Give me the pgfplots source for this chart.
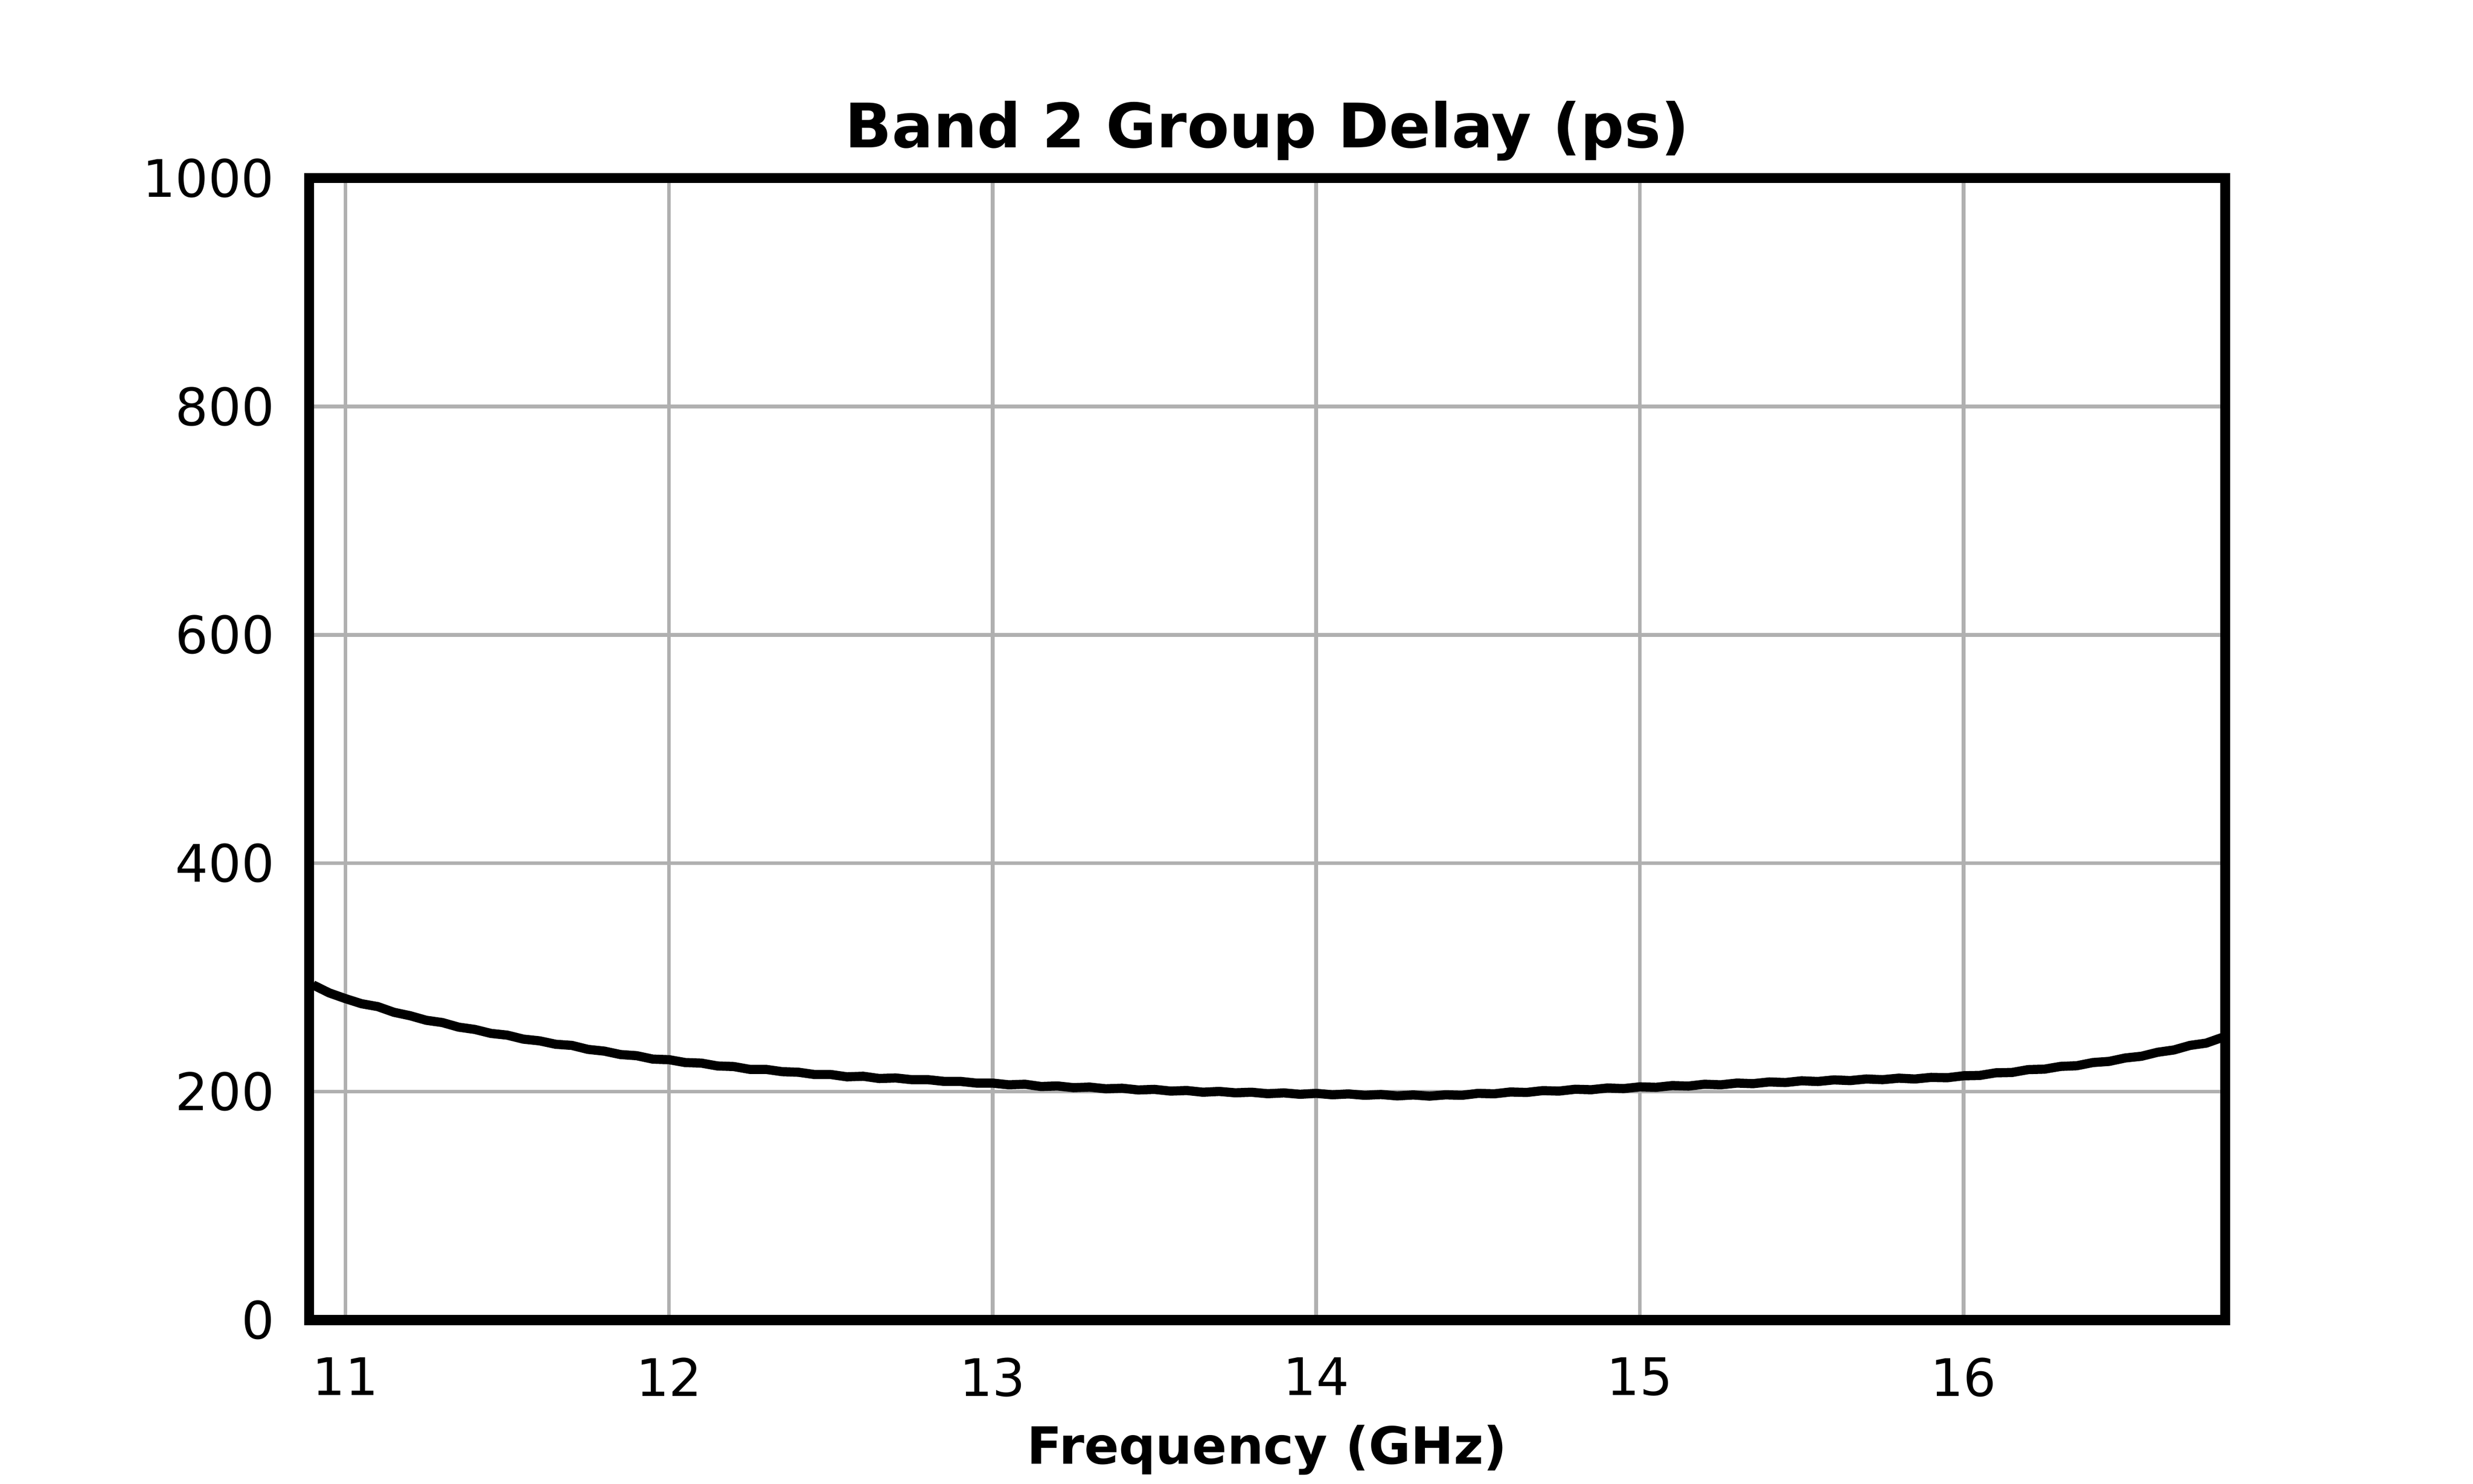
\documentclass[border=0pt]{standalone}
\usepackage{fontspec}
\setmainfont{DejaVu Sans}
\usepackage{pgfplots}
\pgfplotsset{compat=1.18}
\definecolor{gridgray}{HTML}{B0B0B0}
\begin{document}
\begin{tikzpicture}
\useasboundingbox (-67.5pt,-35.7pt) rectangle (472.5pt,288.3pt);
\begin{axis}[
  at={(0,0)}, anchor=south west,
  scale only axis,
  width=418.4pt, height=249.4pt,
  xmin=10.888, xmax=16.809,
  ymin=0, ymax=1000,
  xtick={11,12,13,14,15,16},
  ytick={0,200,400,600,800,1000},
  /pgf/number format/1000 sep={},
  major tick length=0pt,
  grid=major,
  major grid style={draw=gridgray, line width=0.8pt},
  axis line style={line width=2.2pt, black},
  /pgf/number format/assume math mode=true,
  ticklabel style={font=\fontsize{11.3}{13.5}\selectfont},
  xticklabel style={anchor=north, inner sep=0pt, yshift=-8pt},
  yticklabel style={anchor=east, inner sep=0pt, xshift=-7.4pt},
  title={Band 2 Group Delay (ps)},
  every axis title/.style={font=\fontsize{13.4}{16}\selectfont\bfseries, at={(axis description cs:0.5,1)}, anchor=base, inner sep=0pt, yshift=6.7pt},
  xlabel={Frequency (GHz)},
  every axis x label/.style={font=\fontsize{11.2}{13.5}\selectfont\bfseries, at={(axis description cs:0.5,0)}, anchor=base, inner sep=0pt, yshift=-31.4pt},
  clip=true,
]
\addplot[black, line width=2.0pt, line join=round] coordinates {
(10.90,293.5) (10.95,286.5) (11.00,281.5) (11.05,277.0) (11.10,274.5) (11.15,269.5)
(11.20,266.5) (11.25,262.5) (11.30,260.5) (11.35,256.5) (11.40,254.5) (11.45,251.0)
(11.50,249.5) (11.55,246.0) (11.60,244.5) (11.65,241.5) (11.70,240.5) (11.75,237.0)
(11.80,235.5) (11.85,232.5) (11.90,231.5) (11.95,228.5) (12.00,228.0) (12.05,225.5)
(12.10,225.0) (12.15,222.5) (12.20,222.0) (12.25,219.5) (12.30,219.5) (12.35,217.5)
(12.40,217.0) (12.45,215.0) (12.50,215.0) (12.55,213.0) (12.60,213.5) (12.65,211.5)
(12.70,212.0) (12.75,210.5) (12.80,210.5) (12.85,209.0) (12.90,209.0) (12.95,207.5)
(13.00,207.5) (13.05,206.0) (13.10,206.5) (13.15,204.5) (13.20,205.0) (13.25,203.5)
(13.30,204.0) (13.35,202.5) (13.40,203.0) (13.45,201.5) (13.50,202.0) (13.55,200.5)
(13.60,201.0) (13.65,199.5) (13.70,200.2) (13.75,199.0) (13.80,199.5) (13.85,198.2)
(13.90,198.9) (13.95,197.7) (14.00,198.5) (14.05,197.3) (14.10,198.0) (14.15,196.8)
(14.20,197.5) (14.25,196.3) (14.30,197.1) (14.35,196.1) (14.40,197.2) (14.45,196.8)
(14.50,198.5) (14.55,198.1) (14.60,199.7) (14.65,199.3) (14.70,200.9) (14.75,200.5)
(14.80,202.1) (14.85,201.7) (14.90,203.2) (14.95,202.7) (15.00,204.2) (15.05,203.8)
(15.10,205.3) (15.15,204.9) (15.20,206.5) (15.25,206.0) (15.30,207.5) (15.35,207.0)
(15.40,208.5) (15.45,208.0) (15.50,209.5) (15.55,208.9) (15.60,210.3) (15.65,209.7)
(15.70,211.1) (15.75,210.5) (15.80,211.8) (15.85,211.1) (15.90,212.5) (15.95,212.2)
(16.00,213.9) (16.05,214.2) (16.10,216.5) (16.15,216.8) (16.20,219.3) (16.25,219.7)
(16.30,222.1) (16.35,222.7) (16.40,225.5) (16.45,226.5) (16.50,229.5) (16.55,231.0)
(16.60,234.5) (16.65,236.5) (16.70,240.5) (16.75,242.5) (16.80,247.5)
};
\end{axis}
\end{tikzpicture}
\end{document}
